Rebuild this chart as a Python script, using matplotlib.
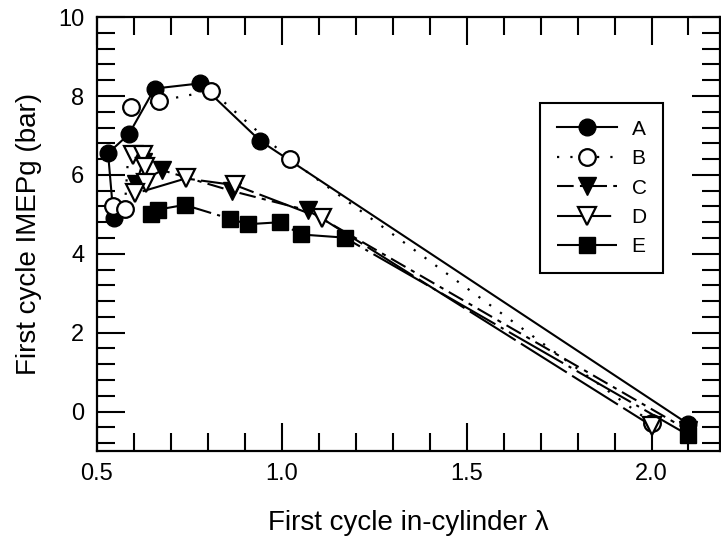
import matplotlib
matplotlib.use("Agg")
import matplotlib.pyplot as plt
from matplotlib.ticker import MultipleLocator, FormatStrFormatter

plt.rcParams['font.family'] = ['Liberation Sans', 'DejaVu Sans']

# first-cycle lambda / IMEPg pairs for each case, in plotting order
lam_A = [0.545, 0.530, 0.586, 0.656, 0.778, 0.942, 2.10]
imep_A = [4.92, 6.55, 7.03, 8.19, 8.32, 6.86, -0.32]

lam_B = [0.543, 0.575, 0.593, 0.669, 0.809, 1.021, 2.00]
imep_B = [5.21, 5.13, 7.71, 7.88, 8.13, 6.40, -0.28]

lam_C = [0.624, 0.606, 0.676, 0.866, 1.070, 2.10]
imep_C = [6.32, 5.76, 6.12, 5.59, 5.10, -0.48]

lam_D = [0.597, 0.624, 0.629, 0.633, 0.604, 0.740, 0.874, 1.108, 2.00]
imep_D = [6.50, 6.50, 6.21, 5.80, 5.53, 5.91, 5.74, 4.90, -0.36]

lam_E = [0.647, 0.665, 0.737, 0.859, 0.908, 0.994, 1.052, 1.170, 2.10]
imep_E = [5.02, 5.12, 5.24, 4.89, 4.75, 4.80, 4.49, 4.41, -0.60]

labels = ['A', 'B', 'C', 'D', 'E']

fig = plt.figure(figsize=(7.21, 5.45), dpi=100)
ax = fig.add_axes([0.1345, 0.1725, 0.864, 0.796])

lw = 1.5
ax.plot(lam_A, imep_A, '-', color='k', lw=lw, marker='o', ms=12,
        mfc='k', mec='k', label=labels[0])
ax.plot(lam_B, imep_B, color='k', lw=1.6, ls=(0, (1, 5)), marker='o', ms=12,
        mfc='white', mec='k', mew=1.6, label=labels[1])
ax.plot(lam_C, imep_C, color='k', lw=lw, ls=(0, (8, 3, 2, 3)), marker='v', ms=13,
        mfc='k', mec='k', label=labels[2])
ax.plot(lam_D, imep_D, color='k', lw=lw, ls=(0, (26, 3)), marker='v', ms=13,
        mfc='white', mec='k', mew=1.6, label=labels[3])
ax.plot(lam_E, imep_E, color='k', lw=lw, ls=(0, (30, 3, 1.5, 3)), marker='s', ms=11,
        mfc='k', mec='k', label=labels[4])

ax.set_xlim(0.5, 2.185)
ax.set_ylim(-1, 10)
ax.xaxis.set_major_locator(MultipleLocator(0.5))
ax.xaxis.set_minor_locator(MultipleLocator(0.1))
ax.xaxis.set_major_formatter(FormatStrFormatter('%.1f'))
ax.yaxis.set_major_locator(MultipleLocator(2))
ax.yaxis.set_minor_locator(MultipleLocator(0.4))

ax.tick_params(which='both', direction='in', top=True, right=True,
               width=1.5, labelsize=17, pad=9)
ax.tick_params(which='major', length=20)
ax.tick_params(which='minor', length=13)
for s in ax.spines.values():
    s.set_linewidth(1.6)

ax.set_xlabel('First cycle in-cylinder λ', fontsize=20, labelpad=18)
ax.set_ylabel('First cycle IMEPg (bar)', fontsize=20, labelpad=12)

leg = ax.legend(loc='upper left', bbox_to_anchor=(540 / 721, 1 - 103 / 545),
                bbox_transform=fig.transFigure, borderaxespad=0, fontsize=15,
                frameon=True, fancybox=False, framealpha=1, edgecolor='k',
                handlelength=2.9, labelspacing=0.5, borderpad=0.8,
                handletextpad=0.7)
leg.get_frame().set_linewidth(1.5)

fig.savefig('out.png', dpi=100)
